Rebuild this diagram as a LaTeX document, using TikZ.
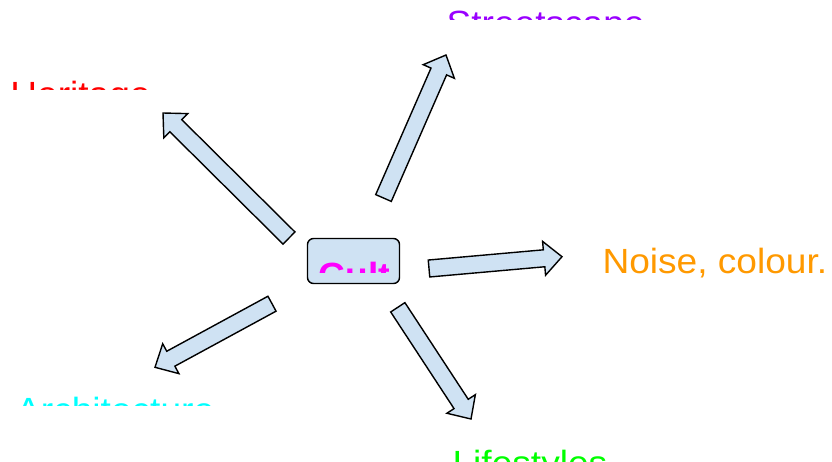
\documentclass[tikz,border=0pt]{standalone}
\usepackage{fontspec}
\setmainfont{Liberation Sans}
\newfontfamily\labelfont[FakeStretch=1.06]{Liberation Sans}
\usetikzlibrary{calc}

\definecolor{arrowfill}{HTML}{CFE2F3}
\definecolor{streetcol}{HTML}{9900FF}
\definecolor{heritagecol}{HTML}{FF0000}
\definecolor{archcol}{HTML}{00FFFF}
\definecolor{lifecol}{HTML}{00FF00}
\definecolor{culturecol}{HTML}{FF00FF}
\definecolor{noisecol}{HTML}{FF9900}

% block arrow from a tail coordinate (#2) to a tip coordinate (#3)
\newcommand\blockarrow[3]{%
  \coordinate (#1-neck) at ($(#3)!18pt!(#2)$);
  \draw[blockarrow] ($(#2)!8.5pt!90:(#3)$)
    -- ($(#1-neck)!8.5pt!90:(#3)$)
    -- ($(#1-neck)!17pt!90:(#3)$)
    -- (#3)
    -- ($(#1-neck)!17pt!-90:(#3)$)
    -- ($(#1-neck)!8.5pt!-90:(#3)$)
    -- ($(#2)!8.5pt!-90:(#3)$) -- cycle;}

\begin{document}
\begin{tikzpicture}[x=1pt,y=-1pt,
  blockarrow/.style={draw=black, line width=1.4pt, fill=arrowfill, line join=miter},
  centrebox/.style={draw=black, line width=1.4pt, fill=arrowfill, rounded corners=6pt,
    minimum width=92pt, minimum height=45pt, inner sep=0pt},
  lbl/.style={inner sep=0pt, anchor=base west, font=\labelfont\fontsize{35}{42}\selectfont}]
\useasboundingbox (0,0) rectangle (832,461);

% central box
\node[centrebox] (culture) at (353.5,261) {};
\begin{scope}
  \clip (310,240) rectangle (388,272);
  \node[lbl, text=culturecol, font=\labelfont\fontsize{35}{42}\selectfont\bfseries] (culturetext) at (318.5,287) {Culture};
\end{scope}

% outer labels, each shown only down to its cut line
\begin{scope}
  \clip (0,0) rectangle (832,19);
  \node[lbl, text=streetcol] (street) at (446.4,35) {Streetscape};
\end{scope}
\begin{scope}
  \clip (0,60) rectangle (400,89);
  \node[lbl, text=heritagecol] (heritage) at (10.2,106) {Heritage};
\end{scope}
\begin{scope}
  \clip (0,380) rectangle (400,405);
  \node[lbl, text=archcol] (arch) at (16,422) {Architecture};
\end{scope}
\begin{scope}
  \clip (400,430) rectangle (832,461);
  \node[lbl, text=lifecol] (life) at (452.4,475) {Lifestyles};
\end{scope}
\node[lbl, text=noisecol] (noise) at (602.3,273) {Noise, colour.};

% arrow end points
\coordinate (heritage-tail) at (289,238);
\coordinate (heritage-tip) at (163,113);
\coordinate (street-tail) at (383.5,198);
\coordinate (street-tip) at (446,55);
\coordinate (noise-tail) at (429,268.5);
\coordinate (noise-tip) at (562,256.7);
\coordinate (arch-tail) at (272,303.7);
\coordinate (arch-tip) at (155,367.3);
\coordinate (life-tail) at (397.8,307.3);
\coordinate (life-tip) at (471,419);

\blockarrow{ha}{heritage-tail}{heritage-tip}
\blockarrow{sa}{street-tail}{street-tip}
\blockarrow{na}{noise-tail}{noise-tip}
\blockarrow{aa}{arch-tail}{arch-tip}
\blockarrow{la}{life-tail}{life-tip}
\end{tikzpicture}
\end{document}
